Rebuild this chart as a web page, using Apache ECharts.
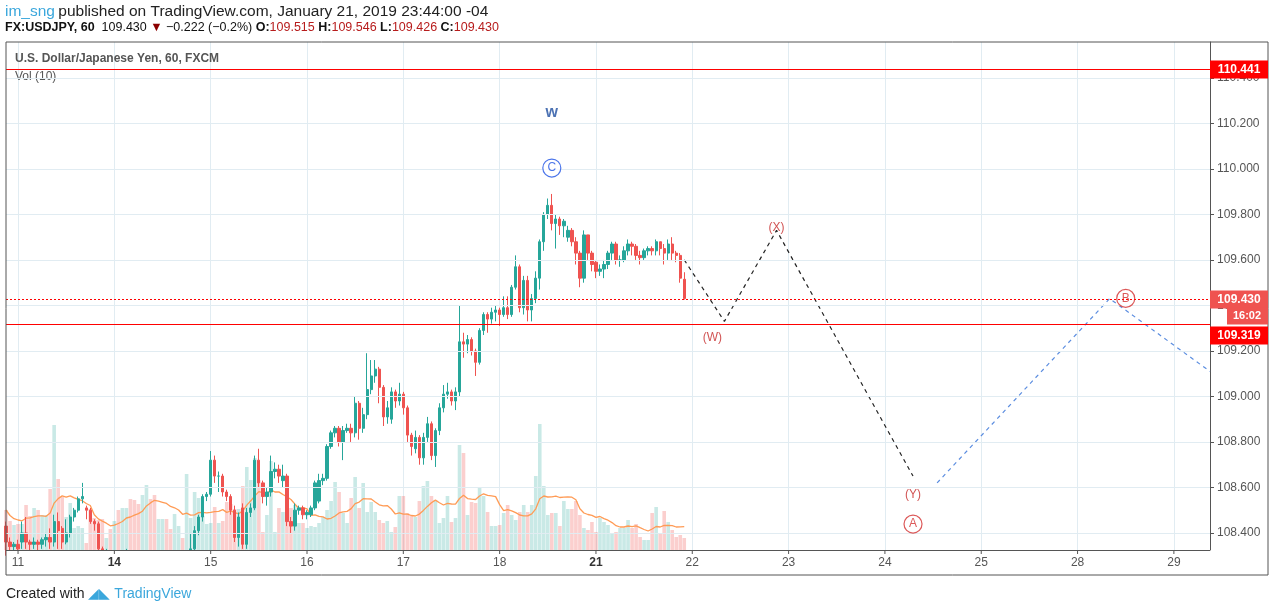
<!DOCTYPE html>
<html><head><meta charset="utf-8">
<script src="https://cdn.jsdelivr.net/npm/echarts@6/dist/echarts.min.js"></script>
<style>html,body{margin:0;padding:0;background:#fff}#c{width:1274px;height:612px}</style>
</head><body><div id="c"></div>
<script>
const opens=[108.43,108.36,108.34,108.35,108.36,108.40,108.36,108.35,108.36,108.35,108.37,108.38,108.36,108.45,108.42,108.36,108.40,108.47,108.50,108.55,108.51,108.50,108.45,108.44,
108.33,108.30,108.31,108.29,108.30,108.28,108.29,108.31,108.30,108.28,108.27,108.29,108.30,108.28,108.27,108.28,108.29,108.28,108.27,108.28,108.29,108.28,108.30,108.33,108.41,108.47,108.56,108.57,108.72,108.65,108.65,108.58,108.56,108.50,108.38,108.51,
108.35,108.49,108.51,108.72,108.62,108.56,108.58,108.67,108.68,108.63,108.65,108.45,108.43,108.50,108.51,108.48,108.48,108.51,108.54,108.63,108.64,108.78,108.84,108.86,108.80,108.85,108.86,108.84,108.97,108.86,
108.92,109.03,109.09,109.12,109.04,108.91,108.90,109.02,108.98,109.01,108.95,108.83,108.77,108.82,108.73,108.82,108.88,108.74,108.85,108.95,109.01,109.02,108.98,109.02,109.24,109.23,109.25,109.20,109.15,109.29,
109.36,109.34,109.37,109.38,109.36,109.39,109.36,109.48,109.57,109.39,109.51,109.38,109.43,109.52,109.68,109.80,109.84,109.76,109.78,109.75,109.70,109.73,109.68,109.63,109.52,109.71,109.63,109.59,109.55,109.56,
109.58,109.63,109.67,109.60,109.60,109.64,109.67,109.66,109.62,109.61,109.64,109.65,109.64,109.68,109.65,109.63,109.67,109.63,109.62,109.515];
const closes=[108.36,108.34,108.35,108.33,108.40,108.36,108.35,108.36,108.35,108.37,108.38,108.36,108.45,108.41,108.36,108.40,108.47,108.50,108.55,108.56,108.50,108.45,108.44,108.33,
108.30,108.31,108.29,108.30,108.28,108.29,108.31,108.30,108.28,108.27,108.29,108.30,108.28,108.27,108.28,108.29,108.28,108.27,108.28,108.29,108.28,108.30,108.33,108.41,108.47,108.56,108.57,108.72,108.65,108.65,108.58,108.56,108.50,108.38,108.47,108.35,
108.49,108.51,108.72,108.62,108.56,108.58,108.67,108.68,108.65,108.65,108.45,108.43,108.50,108.51,108.48,108.49,108.51,108.62,108.63,108.64,108.78,108.84,108.86,108.80,108.85,108.86,108.84,108.97,108.86,108.92,
109.03,109.09,109.12,109.04,108.91,108.95,109.02,108.98,109.01,108.95,108.83,108.78,108.82,108.73,108.82,108.88,108.74,108.85,108.95,109.01,109.02,108.98,109.02,109.24,109.23,109.25,109.20,109.15,109.29,109.36,
109.34,109.37,109.38,109.36,109.39,109.36,109.48,109.57,109.39,109.51,109.38,109.43,109.52,109.68,109.80,109.84,109.76,109.78,109.75,109.77,109.73,109.68,109.63,109.52,109.71,109.63,109.58,109.55,109.56,109.58,
109.63,109.67,109.60,109.60,109.64,109.67,109.66,109.62,109.61,109.64,109.65,109.64,109.68,109.65,109.63,109.67,109.63,109.62,109.52,109.430];
const highs=[108.45,108.38,108.36,108.37,108.45,108.47,108.37,108.38,108.37,108.38,108.40,108.42,108.48,108.49,108.43,108.46,108.48,108.51,108.56,108.62,108.52,108.51,108.46,108.45,
108.34,108.33,108.32,108.31,108.31,108.30,108.33,108.32,108.31,108.29,108.30,108.31,108.31,108.29,108.30,108.30,108.30,108.29,108.29,108.31,108.30,108.32,108.40,108.43,108.48,108.57,108.58,108.76,108.74,108.67,108.66,108.59,108.57,108.52,108.49,108.53,
108.51,108.53,108.74,108.77,108.63,108.60,108.74,108.71,108.70,108.70,108.66,108.47,108.53,108.52,108.52,108.50,108.52,108.63,108.66,108.66,108.79,108.85,108.87,108.87,108.87,108.88,108.88,109.00,108.98,108.95,
109.19,109.16,109.16,109.13,109.05,108.98,109.04,109.03,109.06,109.02,108.96,108.84,108.85,108.83,108.84,108.91,108.89,108.86,108.97,109.05,109.06,109.03,109.04,109.40,109.28,109.27,109.26,109.21,109.30,109.37,
109.37,109.39,109.40,109.39,109.44,109.44,109.49,109.62,109.58,109.53,109.53,109.45,109.55,109.69,109.81,109.87,109.89,109.80,109.79,109.78,109.75,109.74,109.70,109.64,109.73,109.71,109.64,109.60,109.58,109.60,
109.64,109.68,109.68,109.62,109.66,109.69,109.68,109.67,109.64,109.65,109.66,109.66,109.69,109.68,109.67,109.69,109.70,109.64,109.63,109.546];
const lows=[108.30,108.30,108.31,108.30,108.33,108.33,108.32,108.33,108.32,108.33,108.34,108.33,108.34,108.33,108.33,108.35,108.38,108.45,108.49,108.53,108.46,108.44,108.41,108.30,
108.27,108.28,108.27,108.27,108.26,108.26,108.27,108.28,108.26,108.25,108.25,108.27,108.26,108.25,108.25,108.26,108.26,108.25,108.25,108.26,108.26,108.27,108.29,108.32,108.39,108.45,108.54,108.56,108.62,108.58,108.56,108.54,108.48,108.36,108.34,108.33,
108.33,108.47,108.50,108.60,108.53,108.52,108.56,108.64,108.62,108.60,108.43,108.40,108.41,108.48,108.46,108.46,108.47,108.50,108.53,108.61,108.63,108.77,108.82,108.78,108.72,108.84,108.80,108.82,108.81,108.84,
108.90,109.01,109.06,108.97,108.87,108.88,108.88,108.95,108.96,108.92,108.80,108.74,108.75,108.70,108.70,108.80,108.72,108.69,108.83,108.93,108.99,108.96,108.94,109.00,109.17,109.19,109.18,109.09,109.14,109.27,
109.28,109.32,109.33,109.31,109.35,109.34,109.35,109.47,109.37,109.36,109.33,109.33,109.41,109.47,109.64,109.78,109.73,109.65,109.71,109.70,109.68,109.66,109.58,109.48,109.50,109.60,109.55,109.52,109.53,109.52,
109.56,109.60,109.58,109.57,109.59,109.62,109.62,109.60,109.58,109.60,109.62,109.62,109.62,109.62,109.58,109.60,109.60,109.59,109.50,109.426];
const volumes=[40,29,25,26,26,45,34,42,40,35,35,61,125,71,53,33,47,22,24,22,7,41,32,30,
31,12,21,29,40,42,42,51,50,46,55,65,51,55,31,31,31,21,36,24,12,76,32,58,
52,34,26,27,43,27,29,48,46,41,41,64,83,70,92,70,18,35,89,18,42,38,61,42,
45,27,27,22,24,23,27,33,40,49,68,58,37,27,52,73,42,67,38,48,38,30,27,29,
18,23,54,54,37,35,33,49,64,69,54,50,27,32,54,28,32,105,97,35,48,47,62,54,
38,24,24,25,37,45,35,30,38,45,38,45,74,126,64,35,37,37,24,49,41,41,49,35,
22,20,28,18,32,28,25,17,18,22,22,30,22,26,13,10,10,37,43,17,39,28,20,13,15,12];
const dayLabels=[[3,'11'],[27,'14'],[51,'15'],[75,'16'],[99,'17'],[123,'18'],[147,'21'],[171,'22'],[195,'23'],[219,'24'],[243,'25'],[267,'28'],[291,'29']];
const priceTicks=[108.4,108.6,108.8,109.0,109.2,109.4,109.6,109.8,110.0,110.2,110.4];
const pathBlack=[[169,109.60],[179,109.33],[192,109.73],[226,108.65]];
const pathBlue=[[232,108.62],[275,109.43],[300,109.11]];
const textMarks=[[176.4,109.257,'(W)'],[191.6,109.741,'(X)'],[226.3,108.567,'(Y)']];
const circleMarks=[[136.3,110.004,'C','#1e53e5'],[226.3,108.439,'A','#d32f2f'],[279.3,109.431,'B','#d32f2f']];
const levels=[[110.441,'solid'],[109.430,'dotted'],[109.319,'solid']];

const N=301;
const cats=[];const labelMap={};dayLabels.forEach(d=>labelMap[d[0]]=d[1]);
for(let i=0;i<N;i++)cats.push(labelMap[i]||'');
const isDay=(i)=>labelMap[i]!==undefined;
const ohlc=opens.map((o,i)=>[o,closes[i],lows[i],highs[i]]);
const up=opens.map((o,i)=>closes[i]>=o);
const volData=volumes.map((v,i)=>({value:v,itemStyle:{color:up[i]?'rgba(38,166,154,0.25)':'rgba(239,83,80,0.28)'}}));
const ma=volumes.map((v,i)=>{const s=volumes.slice(Math.max(0,i-9),i+1);return +(s.reduce((a,b)=>a+b,0)/s.length).toFixed(2);});
const grid={left:6,right:64,top:42,bottom:62};
const chart=echarts.init(document.getElementById('c'));
const gridLines=priceTicks.map(v=>({yAxis:v}));
const F='Liberation Sans';
chart.setOption({
  animation:false,
  grid,
  xAxis:[{type:'category',data:cats,boundaryGap:false,
    axisLine:{show:false},axisTick:{show:false},axisLabel:{show:false},
    splitLine:{show:true,interval:(i)=>isDay(i),lineStyle:{color:'#e1ecf2'}}}],
  yAxis:[{type:'value',position:'right',min:108.325,max:110.558,
    axisLine:{show:true,lineStyle:{color:'#555'}},
    axisTick:{show:true,length:4,customValues:priceTicks,lineStyle:{color:'#555'}},
    axisLabel:{customValues:priceTicks,formatter:(v)=>v.toFixed(3),color:'#555',fontSize:12,fontFamily:F,margin:7},
    splitLine:{show:false}},
   {type:'value',min:0,max:508,show:false}],
  series:[
   {type:'line',data:[],markLine:{symbol:['none','none'],silent:true,label:{show:false},lineStyle:{color:'#e1ecf2',width:1,type:'solid'},data:gridLines},z:0},
   {type:'bar',yAxisIndex:1,data:volData,barWidth:3.6,silent:true,z:1},
   {type:'line',yAxisIndex:1,data:ma,showSymbol:false,lineStyle:{color:'#ff9b55',width:1.3},z:2,silent:true},
   {type:'candlestick',data:ohlc,barWidth:2.8,z:3,
    itemStyle:{color:'#26a69a',color0:'#ef5350',borderColor:'#26a69a',borderColor0:'#ef5350',borderWidth:1}},
   {type:'line',data:pathBlack,showSymbol:false,lineStyle:{color:'#222',width:1.2,type:[4,4]},z:4},
   {type:'line',data:pathBlue,showSymbol:false,lineStyle:{color:'#5b8de0',width:1.2,type:[4,4]},z:4},
   {type:'scatter',data:textMarks.map(t=>({value:[t[0],t[1]],label:{formatter:t[2]}})),symbolSize:1,itemStyle:{color:'transparent'},
    label:{show:true,position:'inside',color:'#c62828',fontSize:12,fontFamily:F},z:5},
   {type:'scatter',data:circleMarks.map(t=>({value:[t[0],t[1]],itemStyle:{borderColor:t[3]},label:{formatter:t[2],color:t[3]}})),
    symbol:'circle',symbolSize:18,itemStyle:{color:'#fff',borderWidth:1.2},label:{show:true,position:'inside',fontSize:12,fontFamily:F},z:5},
   {type:'scatter',data:[[136.3,110.246]],symbolSize:1,itemStyle:{color:'transparent'},
    label:{show:true,position:'inside',formatter:'w',color:'#1f4fa0',fontSize:16,fontWeight:'bold',fontFamily:F},z:5}
  ]
});
const tags=[];
levels.forEach((l,k)=>{
  const y=Math.round(chart.convertToPixel({yAxisIndex:0},l[0]))+0.5;
  tags.push({type:'line',z:40,silent:true,shape:{x1:6,y1:y,x2:1210,y2:y},style:{stroke:'#ff0000',lineWidth:1,lineDash:l[1]==='dotted'?[2,2]:null}});
  const top=k===2?y+2:y-9;
  tags.push({type:'rect',z:60,shape:{x:1210,y:top,width:58,height:18},style:{fill:l[1]==='dotted'?'#ef5350':'#ff0000'}});
  tags.push({type:'text',z:61,x:1239,y:top+9,style:{text:l[0].toFixed(3),fill:'#fff',font:'bold 12px '+F,align:'center',verticalAlign:'middle'}});
});
const yc=chart.convertToPixel({yAxisIndex:0},109.430);
tags.push({type:'rect',z:60,shape:{x:1227,y:yc+9,width:41,height:17},style:{fill:'#ef5350'}});
tags.push({type:'text',z:61,x:1247,y:yc+17.5,style:{text:'16:02',fill:'#fff',font:'bold 11px '+F,align:'center',verticalAlign:'middle'}});
const xl=[];
dayLabels.forEach(d=>{
  const x=chart.convertToPixel({xAxisIndex:0},d[0]);
  xl.push({type:'line',z:52,shape:{x1:x,y1:550,x2:x,y2:554},style:{stroke:'#555',lineWidth:1}});
  const bold=(d[1]==='14'||d[1]==='21');
  xl.push({type:'text',z:52,x:x,y:563,style:{text:d[1],fill:bold?'#333':'#555',font:(bold?'bold ':'')+'12px '+F,align:'center',verticalAlign:'middle'}});
});
chart.setOption({graphic:[
  {type:'rect',z:50,shape:{x:6,y:550.5,width:1204,height:24},style:{fill:'#fff'},silent:true},
  {type:'line',z:51,shape:{x1:6,y1:550.5,x2:1210,y2:550.5},style:{stroke:'#555',lineWidth:1}},
  {type:'rect',z:55,shape:{x:6,y:42,width:1262,height:533},style:{fill:'none',stroke:'#555',lineWidth:1},silent:true},
  {type:'text',left:5,top:4,style:{rich:{a:{fill:'#3ba7dc',font:'15.5px '+F},b:{fill:'#222',font:'15.5px '+F}},text:'{a|im_sng} {b|published on TradingView.com, January 21, 2019 23:44:00 -04}'}},
  {type:'text',left:5,top:21,style:{rich:{a:{fill:'#111',font:'bold 12.5px '+F},r:{fill:'#b71c1c',font:'12.5px '+F},t:{fill:'#8b0000',font:'12.5px '+F},k:{fill:'#111',font:'12.5px '+F}},
   text:'{a|FX:USDJPY, 60}{k|  109.430 }{t|▼}{k| −0.222 (−0.2%) }{a|O:}{r|109.515 }{a|H:}{r|109.546 }{a|L:}{r|109.426 }{a|C:}{r|109.430}'}},
  {type:'text',left:15,top:53,style:{text:'U.S. Dollar/Japanese Yen, 60, FXCM',fill:'#555',font:'bold 12px '+F}},
  {type:'text',left:15,top:71,style:{text:'Vol (10)',fill:'#555',font:'12px '+F}},
  {type:'text',left:6,top:587,style:{rich:{a:{fill:'#222',font:'14px '+F},b:{fill:'#3ba7dc',font:'14px '+F}},text:'{a|Created with }{b|◢◣ TradingView}'}}
].concat(xl).concat(tags)});
</script></body></html>
